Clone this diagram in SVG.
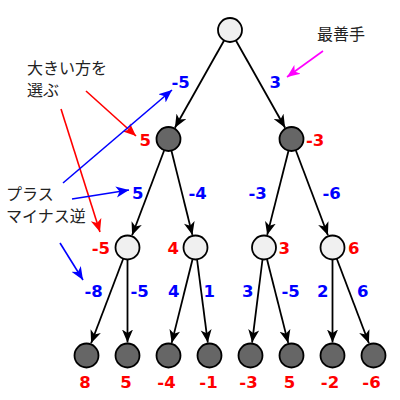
<svg xmlns="http://www.w3.org/2000/svg" width="400" height="400" viewBox="0 0 400 400">
<style>
.edge{stroke:#000;stroke-width:1.8;fill:none;marker-end:url(#ak)}
.light{fill:#f0f0f0;stroke:#000;stroke-width:1.8}
.dark{fill:#666;stroke:#000;stroke-width:1.8}
.num{font-family:"DejaVu Sans",sans-serif;font-weight:bold;font-size:16.5px}
.b{fill:#0000ff}
.r{fill:#ff0000}
.note{font-family:"Noto Sans CJK JP",sans-serif;font-size:16px;fill:#222}
.ab{stroke:#0000ff;stroke-width:1.6;marker-end:url(#ab)}
.ar{stroke:#ff0000;stroke-width:1.6;marker-end:url(#ar)}
.am{stroke:#ff00ff;stroke-width:1.6;marker-end:url(#am)}
</style>
<defs>
<marker id="ak" markerUnits="userSpaceOnUse" markerWidth="14" markerHeight="12" refX="13" refY="6" orient="auto"><path d="M0,0.5 L13,6 L0,11.5 L3.5,6 z" fill="#000"/></marker>
<marker id="ab" markerUnits="userSpaceOnUse" markerWidth="14" markerHeight="12" refX="13" refY="6" orient="auto"><path d="M0,0.5 L13,6 L0,11.5 L3.5,6 z" fill="#0000ff"/></marker>
<marker id="ar" markerUnits="userSpaceOnUse" markerWidth="14" markerHeight="12" refX="13" refY="6" orient="auto"><path d="M0,0.5 L13,6 L0,11.5 L3.5,6 z" fill="#ff0000"/></marker>
<marker id="am" markerUnits="userSpaceOnUse" markerWidth="14" markerHeight="12" refX="13" refY="6" orient="auto"><path d="M0,0.5 L13,6 L0,11.5 L3.5,6 z" fill="#ff00ff"/></marker>
</defs>
<g id="connectors">
<line class="edge" x1="230" y1="30" x2="174.9" y2="127.7"/>
<line class="edge" x1="230" y1="30" x2="285.1" y2="127.7"/>
<line class="edge" x1="168.5" y1="139" x2="132.1" y2="235.3"/>
<line class="edge" x1="168.5" y1="139" x2="192.4" y2="234.9"/>
<line class="edge" x1="291.5" y1="139" x2="267.2" y2="234.9"/>
<line class="edge" x1="291.5" y1="139" x2="327.9" y2="235.3"/>
<line class="edge" x1="127.5" y1="247.5" x2="91.1" y2="343.3"/>
<line class="edge" x1="127.5" y1="247.5" x2="127.5" y2="342.5"/>
<line class="edge" x1="195.5" y1="247.5" x2="171.7" y2="342.9"/>
<line class="edge" x1="195.5" y1="247.5" x2="207.8" y2="342.6"/>
<line class="edge" x1="264" y1="247.5" x2="252.1" y2="342.6"/>
<line class="edge" x1="264" y1="247.5" x2="288.2" y2="342.9"/>
<line class="edge" x1="332.5" y1="247.5" x2="332.5" y2="342.5"/>
<line class="edge" x1="332.5" y1="247.5" x2="368.9" y2="343.3"/>
</g>
<g id="root"><circle class="light" cx="230" cy="30" r="12"/></g>
<g id="n1"><circle class="dark" cx="168.5" cy="139" r="12"/><text class="num r" x="151" y="146" text-anchor="end">5</text></g>
<g id="n2"><circle class="dark" cx="291.5" cy="139" r="12"/><text class="num r" x="306" y="146">-3</text></g>
<g id="n11"><circle class="light" cx="127.5" cy="247.5" r="12"/><text class="num r" x="110" y="254" text-anchor="end">-5</text></g>
<g id="n12"><circle class="light" cx="195.5" cy="247.5" r="12"/><text class="num r" x="179" y="254" text-anchor="end">4</text></g>
<g id="n21"><circle class="light" cx="264" cy="247.5" r="12"/><text class="num r" x="278.5" y="254">3</text></g>
<g id="n22"><circle class="light" cx="332.5" cy="247.5" r="12"/><text class="num r" x="348" y="254">6</text></g>
<g id="l1"><circle class="dark" cx="86.5" cy="355.5" r="12"/><text class="num r" x="85" y="388" text-anchor="middle">8</text></g>
<g id="l2"><circle class="dark" cx="127.5" cy="355.5" r="12"/><text class="num r" x="126" y="388" text-anchor="middle">5</text></g>
<g id="l3"><circle class="dark" cx="168.5" cy="355.5" r="12"/><text class="num r" x="166.5" y="388" text-anchor="middle">-4</text></g>
<g id="l4"><circle class="dark" cx="209.5" cy="355.5" r="12"/><text class="num r" x="208.5" y="388" text-anchor="middle">-1</text></g>
<g id="l5"><circle class="dark" cx="250.5" cy="355.5" r="12"/><text class="num r" x="248.5" y="388" text-anchor="middle">-3</text></g>
<g id="l6"><circle class="dark" cx="291.5" cy="355.5" r="12"/><text class="num r" x="289.5" y="388" text-anchor="middle">5</text></g>
<g id="l7"><circle class="dark" cx="332.5" cy="355.5" r="12"/><text class="num r" x="330" y="388" text-anchor="middle">-2</text></g>
<g id="l8"><circle class="dark" cx="373.5" cy="355.5" r="12"/><text class="num r" x="371.5" y="388" text-anchor="middle">-6</text></g>
<g id="edge-labels">
<text class="num b" x="171.5" y="88">-5</text>
<text class="num b" x="269.5" y="88">3</text>
<text class="num b" x="132" y="199">5</text>
<text class="num b" x="188.5" y="199">-4</text>
<text class="num b" x="248.5" y="199">-3</text>
<text class="num b" x="322.5" y="199">-6</text>
<text class="num b" x="84.5" y="297">-8</text>
<text class="num b" x="130.5" y="297">-5</text>
<text class="num b" x="168" y="297">4</text>
<text class="num b" x="203.5" y="297">1</text>
<text class="num b" x="242" y="297">3</text>
<text class="num b" x="281.5" y="297">-5</text>
<text class="num b" x="317" y="297">2</text>
<text class="num b" x="357" y="297">6</text>
</g>
<g id="notes">
<text class="note" x="27" y="74">大きい方を</text>
<text class="note" x="27" y="96">選ぶ</text>
<text class="note" x="317" y="40">最善手</text>
<text class="note" x="6" y="200">プラス</text>
<text class="note" x="6" y="222">マイナス逆</text>
<line class="am" x1="323" y1="51" x2="287" y2="77"/>
<line class="ar" x1="86" y1="91" x2="136" y2="136"/>
<line class="ar" x1="61" y1="109" x2="100" y2="232"/>
<line class="ab" x1="63" y1="183" x2="172" y2="90"/>
<line class="ab" x1="72" y1="199" x2="129" y2="190"/>
<line class="ab" x1="60" y1="243" x2="83" y2="280"/>
</g>
</svg>
